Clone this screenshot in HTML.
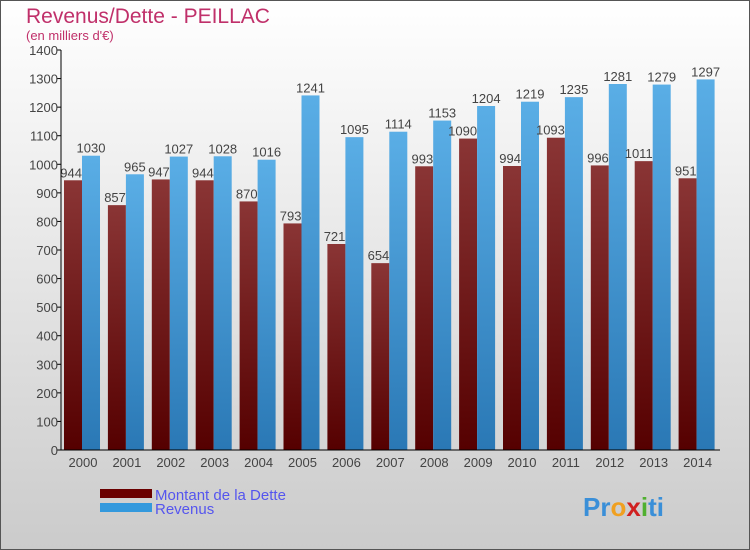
<!DOCTYPE html>
<html><head><meta charset="utf-8"><style>
body{margin:0}
#c{width:750px;height:550px;position:relative;overflow:hidden;font-family:"Liberation Sans",sans-serif}
</style></head><body>
<div id="c">
<svg id="s" width="750" height="550" xmlns="http://www.w3.org/2000/svg">
<defs>
<linearGradient id="bg" x1="0" y1="0" x2="0" y2="1"><stop offset="0" stop-color="#ffffff"/><stop offset="1" stop-color="#cbcbcb"/></linearGradient>
<linearGradient id="gd" x1="0" y1="0" x2="0" y2="1"><stop offset="0" stop-color="#8a3535"/><stop offset="1" stop-color="#550000"/></linearGradient>
<linearGradient id="gr" x1="0" y1="0" x2="0" y2="1"><stop offset="0" stop-color="#5aaee6"/><stop offset="1" stop-color="#2a78b5"/></linearGradient>
</defs>
<rect x="0.5" y="0.5" width="749" height="549" fill="url(#bg)" stroke="#555"/>
<text x="26" y="23" font-size="21" fill="#c0306a">Revenus/Dette - PEILLAC</text>
<text x="26" y="40" font-size="13" fill="#c0306a">(en milliers d'€)</text>
<g id="g"></g>
<rect x="100" y="489" width="52" height="9" fill="#6a0000"/>
<rect x="100" y="503" width="52" height="9" fill="#3399dd"/>
<text x="155" y="500" font-size="15" fill="#5555ee">Montant de la Dette</text>
<text x="155" y="514" font-size="15" fill="#5555ee">Revenus</text>
<text x="583" y="516" font-size="26" font-weight="bold"><tspan fill="#3a8fd8">Pr</tspan><tspan fill="#f0a020">o</tspan><tspan fill="#d02020">x</tspan><tspan fill="#50b030">i</tspan><tspan fill="#3a8fd8">ti</tspan></text>
</svg>
</div>
<script>
const years=["2000","2001","2002","2003","2004","2005","2006","2007","2008","2009","2010","2011","2012","2013","2014"];
const dette=[944,857,947,944,870,793,721,654,993,1090,994,1093,996,1011,951];
const revenus=[1030,965,1027,1028,1016,1241,1095,1114,1153,1204,1219,1235,1281,1279,1297];
const yTicks=[0,100,200,300,400,500,600,700,800,900,1000,1100,1200,1300,1400];
const NS="http://www.w3.org/2000/svg";
const g=document.getElementById('g');
const x0=61,y0=450,yMax=1400,ph=400,step=43.9,bw=18;
const y=v=>y0-v/yMax*ph;
const X=i=>x0+i*step;
function mk(t,a){const e=document.createElementNS(NS,t);for(const k in a)e.setAttribute(k,a[k]);g.appendChild(e);return e;}
yTicks.forEach(t=>{
 const l=mk('line',{x1:x0-4,x2:x0,y1:y(t),y2:y(t),stroke:'#000'});
 
 
 const tx=mk('text',{x:x0-3,y:y(t)+5,'text-anchor':'end','font-size':13,fill:'#444'});
 tx.textContent=t;
 
 
});
years.forEach((yr,i)=>{
 const b1=mk('rect',{x:X(i)+3,y:y(dette[i]),width:bw,height:y0-y(dette[i]),fill:'url(#gd)'});
 
 
 const b2=mk('rect',{x:X(i)+3+bw,y:y(revenus[i]),width:bw,height:y0-y(revenus[i]),fill:'url(#gr)'});
 
 
 const t1=mk('text',{x:X(i)+3+bw,y:y(dette[i])-3,'text-anchor':'end','font-size':13,fill:'#444'});
 t1.textContent=dette[i];
 
 
 const t2=mk('text',{x:X(i)+3+bw*1.5,y:y(revenus[i])-3,'text-anchor':'middle','font-size':13,fill:'#444'});
 t2.textContent=revenus[i];
 
 
 const xl=mk('text',{x:X(i)+22,y:467,'text-anchor':'middle','font-size':13,fill:'#444'});
 xl.textContent=yr;
 
 
});
const ax=mk('line',{x1:x0,x2:x0,y1:50,y2:y0,stroke:'#000'});


const bx=mk('line',{x1:x0,x2:720,y1:y0,y2:y0,stroke:'#000'});


</script>
</body></html>
